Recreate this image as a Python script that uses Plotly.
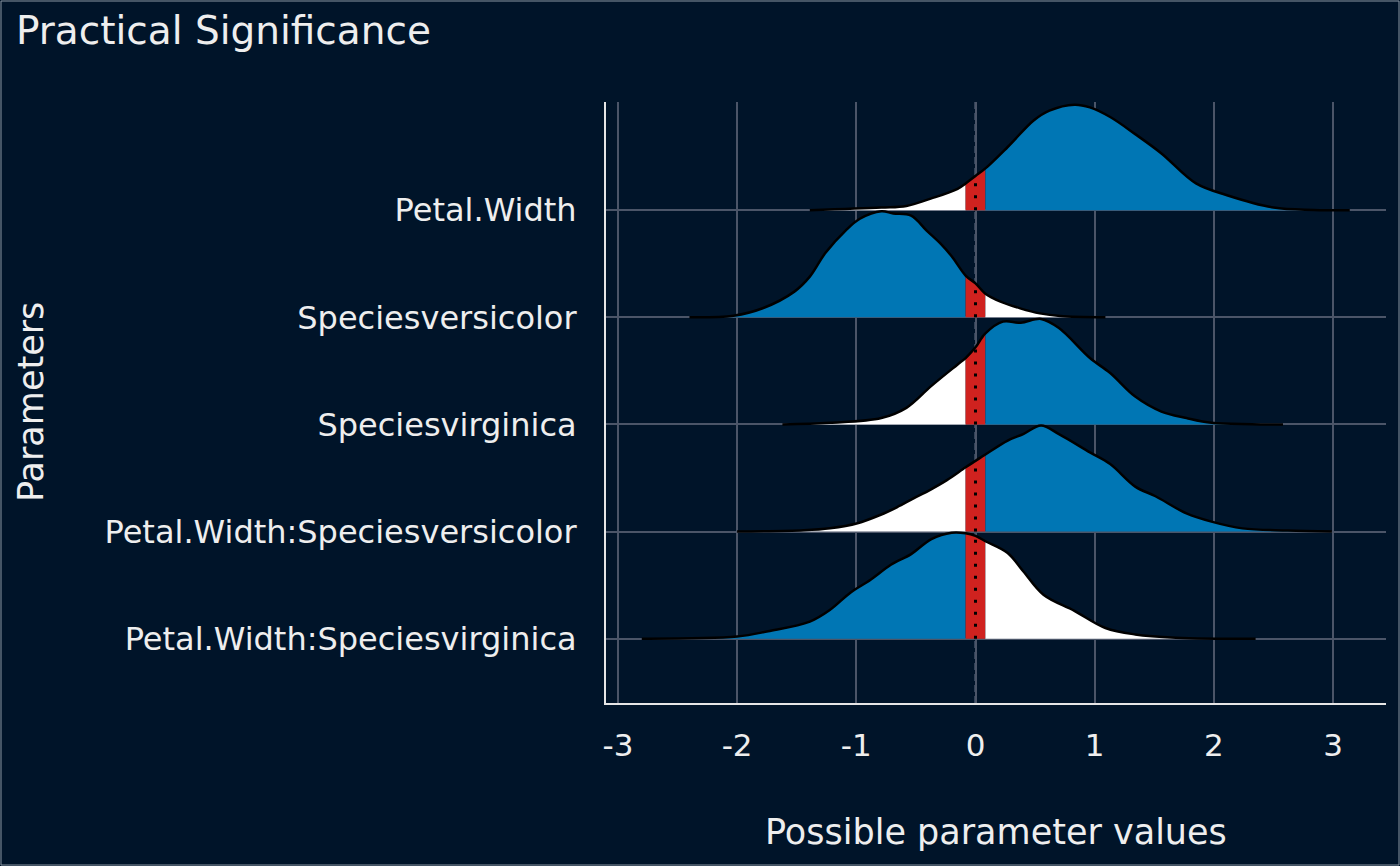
import plotly.graph_objects as go

# parameters, bottom row first
params = ['Petal.Width:Speciesvirginica', 'Petal.Width:Speciesversicolor',
          'Speciesvirginica', 'Speciesversicolor', 'Petal.Width']

rope = 0.083

# density (height in units of row spacing)
pw_x = [-1.39, -0.79, -0.58, -0.37, -0.15, -0.083, 0, 0.083, 0.27, 0.49, 0.62, 0.83,
        0.96, 1.13, 1.34, 1.56, 1.85, 2.11, 2.50, 2.84, 3.14]
pw_h = [0, 0.025, 0.04, 0.11, 0.20, 0.25, 0.32, 0.39, 0.59, 0.84, 0.93, 0.985,
        0.96, 0.87, 0.71, 0.53, 0.25, 0.14, 0.025, 0.003, 0]

sve_x = [-2.40, -2.03, -1.78, -1.52, -1.39, -1.26, -1.09, -0.97, -0.79, -0.69, -0.54,
         -0.41, -0.295, -0.20, -0.083, 0, 0.083, 0.21, 0.375, 0.54, 0.71, 1.09]
sve_h = [0, 0.015, 0.087, 0.24, 0.38, 0.60, 0.81, 0.92, 0.99, 0.97, 0.95,
         0.81, 0.69, 0.57, 0.39, 0.317, 0.22, 0.146, 0.084, 0.037, 0.012, 0]

svi_x = [-1.62, -1.22, -0.79, -0.58, -0.37, -0.15, -0.083, 0, 0.083, 0.23, 0.38, 0.55,
         0.70, 0.96, 1.13, 1.34, 1.56, 1.77, 1.98, 2.32, 2.58]
svi_h = [0, 0.015, 0.06, 0.155, 0.36, 0.56, 0.62, 0.72, 0.85, 0.96, 0.95, 0.985,
         0.90, 0.62, 0.48, 0.26, 0.12, 0.06, 0.015, 0.003, 0]

pwve_x = [-2.0, -1.44, -1.22, -0.99, -0.80, -0.66, -0.52, -0.38, -0.24, -0.083, 0, 0.083,
          0.27, 0.40, 0.55, 0.70, 0.96, 1.13, 1.34, 1.51, 1.77, 1.98, 2.24, 2.62, 2.99]
pwve_h = [0, 0.012, 0.031, 0.078, 0.155, 0.227, 0.31, 0.39, 0.48, 0.60, 0.66, 0.72,
          0.85, 0.91, 0.99, 0.91, 0.74, 0.63, 0.42, 0.33, 0.17, 0.093, 0.03, 0.01, 0]

pwvi_x = [-2.80, -2.0, -1.74, -1.39, -1.22, -1.05, -0.88, -0.71, -0.54, -0.37, -0.20,
          -0.083, 0, 0.083, 0.27, 0.40, 0.57, 0.83, 1.09, 1.34, 1.68, 2.35]
pwvi_h = [0, 0.02, 0.07, 0.16, 0.27, 0.43, 0.55, 0.69, 0.79, 0.93, 0.99,
          0.985, 0.96, 0.91, 0.80, 0.63, 0.41, 0.26, 0.10, 0.04, 0.01, 0]

xs = [pwvi_x, pwve_x, svi_x, sve_x, pw_x]
hs = [pwvi_h, pwve_h, svi_h, sve_h, pw_h]
# side of zero that carries most of the mass
direction = ['neg', 'pos', 'pos', 'neg', 'pos']

x_ticks = [-3, -2, -1, 0, 1, 2, 3]
x_ticklabels = ['-3', '-2', '-1', '0', '1', '2', '3']

bg = '#001429'
blue = '#0076b4'
red = '#d0221f'
grid = '#4b5568'
txt = '#eeeeee'

fig = go.Figure()

# draw from top row down so lower ridges sit on top
for i in reversed(range(len(params))):
    x, h = xs[i], hs[i]
    y = [i + v for v in h]
    parts = [
        ([k for k in range(len(x)) if x[k] <= -rope], 'white' if direction[i] == 'pos' else blue),
        ([k for k in range(len(x)) if -rope <= x[k] <= rope], red),
        ([k for k in range(len(x)) if x[k] >= rope], blue if direction[i] == 'pos' else 'white'),
    ]
    for idx, col in parts:
        sx = [x[k] for k in idx]
        fig.add_trace(go.Scatter(x=sx, y=[i] * len(sx), mode='lines',
                                 line=dict(width=0), hoverinfo='skip', showlegend=False))
        fig.add_trace(go.Scatter(x=sx, y=[y[k] for k in idx], mode='lines',
                                 line=dict(width=0, shape='spline'), fill='tonexty',
                                 fillcolor=col, hoverinfo='skip', showlegend=False))
    fig.add_trace(go.Scatter(x=x, y=y, mode='lines', name=params[i],
                             line=dict(color='black', width=2.5, shape='spline'),
                             showlegend=False))
    h0 = h[x.index(0)]
    fig.add_trace(go.Scatter(x=[0, 0], y=[i, i + h0], mode='lines',
                             line=dict(color='black', width=3, dash='3px,9px'),
                             hoverinfo='skip', showlegend=False))

fig.add_shape(type='line', x0=0, x1=0, y0=0, y1=1, yref='paper', layer='below',
              line=dict(color='#66728a', width=2, dash='7px,4px'))

# thin frame round the whole picture
fig.add_shape(type='rect', xref='paper', yref='paper',
              x0=(1 - 606) / 780, x1=(1399 - 606) / 780,
              y0=(703 - 865) / 601, y1=(703 - 1) / 601,
              line=dict(color='#8a96a3', width=1))

fig.add_annotation(text='Parameters', xref='paper', yref='paper',
                   x=(31 - 606) / 780, y=(703 - 402) / 601, textangle=-90, showarrow=False,
                   xanchor='center', yanchor='middle',
                   font=dict(size=35, color=txt))
fig.add_annotation(text='Possible parameter values', xref='paper', yref='paper',
                   x=(996 - 606) / 780, y=(703 - 832) / 601, showarrow=False,
                   xanchor='center', yanchor='middle',
                   font=dict(size=35, color=txt))

fig.update_layout(
    width=1400, height=866,
    paper_bgcolor=bg, plot_bgcolor=bg,
    font=dict(family='DejaVu Sans', color=txt),
    title=dict(text='Practical Significance', x=16 / 1400, xanchor='left',
               y=1 - 30 / 866, yanchor='middle', font=dict(size=39, color=txt)),
    margin=dict(l=606, r=14, t=102, b=163),
    xaxis=dict(range=[-3.10, 3.444], tickvals=x_ticks, ticktext=x_ticklabels,
               showgrid=True, gridcolor=grid, gridwidth=2, zeroline=False,
               showline=True, linecolor='#e6e6e6', linewidth=2,
               tickfont=dict(size=31, color=txt), ticklabelstandoff=14),
    yaxis=dict(range=[-0.6, 5.01], tickvals=list(range(len(params))), ticktext=params,
               showgrid=True, gridcolor=grid, gridwidth=2, zeroline=False,
               showline=True, linecolor='#e6e6e6', linewidth=2,
               tickfont=dict(size=32, color=txt), ticklabelstandoff=21),
)

fig.write_html('out.html', config={'displayModeBar': False},
               post_script="document.body.style.margin='0';document.body.style.background='#001429';")
